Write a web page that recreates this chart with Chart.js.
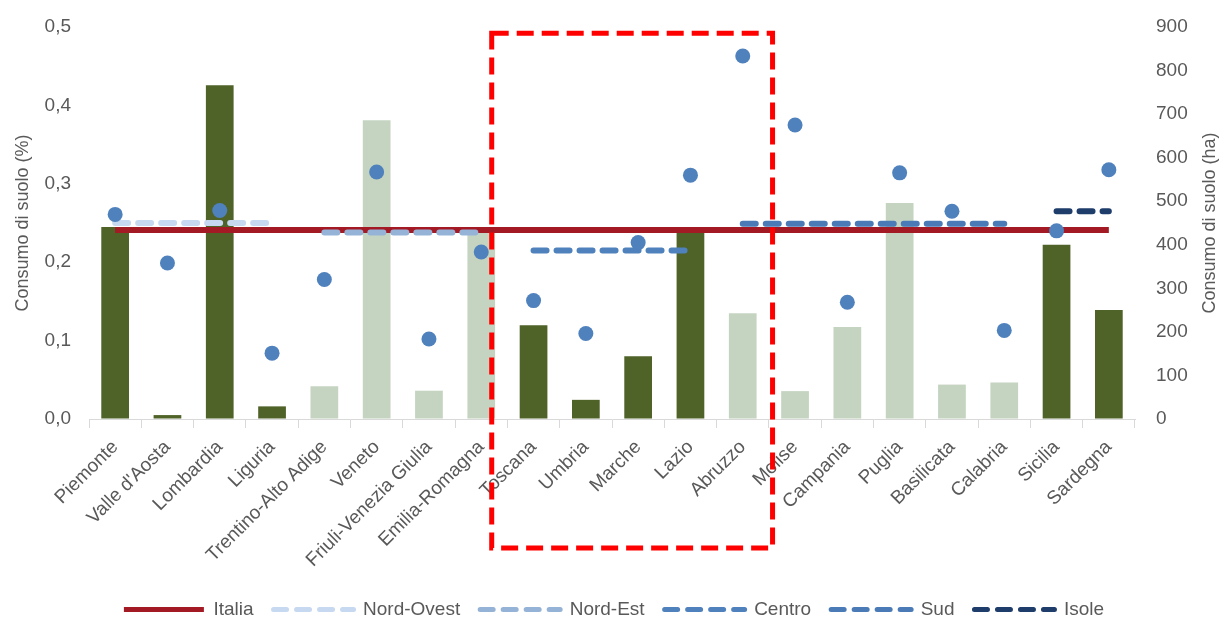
<!DOCTYPE html>
<html><head><meta charset="utf-8">
<script src="https://cdn.jsdelivr.net/npm/chart.js@4/dist/chart.umd.min.js"></script>
<style>html,body{margin:0;padding:0;background:#fff;}#wrap{width:1228px;height:621px;position:relative;}</style>
</head><body><div id="wrap"><canvas id="c"></canvas></div>
<script>
// ---- DATA ----
const regions = ['Piemonte',"Valle d'Aosta",'Lombardia','Liguria','Trentino-Alto Adige','Veneto','Friuli-Venezia Giulia','Emilia-Romagna','Toscana','Umbria','Marche','Lazio','Abruzzo','Molise','Campania','Puglia','Basilicata','Calabria','Sicilia','Sardegna'];
const macroArea = ['NO','NO','NO','NO','NE','NE','NE','NE','C','C','C','C','S','S','S','S','S','S','I','I'];
const consumoHa = [441, 9, 766, 29, 75, 686, 65, 427, 215, 44, 144, 431, 243, 64, 211, 496, 79, 84, 400, 250];
const consumoPct = [0.261, 0.199, 0.266, 0.084, 0.178, 0.315, 0.102, 0.213, 0.151, 0.109, 0.225, 0.311, 0.463, 0.375, 0.149, 0.314, 0.265, 0.113, 0.240, 0.318];
const mediaItalia = 0.241;
const mediaMacro = {NO: 0.250, NE: 0.238, C: 0.215, S: 0.249, I: 0.265};
const macroNames = {NO: 'Nord-Ovest', NE: 'Nord-Est', C: 'Centro', S: 'Sud', I: 'Isole'};
const leftTicks = [0, 0.1, 0.2, 0.3, 0.4, 0.5];
const rightTicks = [0, 100, 200, 300, 400, 500, 600, 700, 800, 900];

// ---- STYLE ----
const FONT = "'Liberation Sans', Arial, sans-serif";
const TXT = '#595959';
const barDark = '#4F6228', barLight = '#C4D4C0';
const barColorFor = {NO: barDark, NE: barLight, C: barDark, S: barLight, I: barDark};
const lineColor = {NO: '#C6D9F1', NE: '#95B3D7', C: '#4F81BD', S: '#4A7BB7', I: '#1F3D6B'};

const lineDatasets = Object.keys(mediaMacro).map((k, i) => ({
  type: 'line', label: macroNames[k], inLegend: true, legendRank: i + 1, yAxisID: 'y', order: 2,
  data: macroArea.map(m => m === k ? mediaMacro[k] : null),
  borderColor: lineColor[k], backgroundColor: lineColor[k],
  borderWidth: 6, borderDash: [13, 10], borderCapStyle: 'round',
  pointRadius: 0, pointHoverRadius: 0, spanGaps: false, fill: false
}));

const highlight = {fromIndex: 7.2, toIndex: 12.57, topValue: 0.492, below: 129};

const plugins = [{
  id: 'extras',
  afterDraw(chart) {
    const ctx = chart.ctx, x = chart.scales.x, y = chart.scales.y, y2 = chart.scales.y2;
    ctx.save();
    ctx.translate(y2.right - 18, (chart.chartArea.top + chart.chartArea.bottom) / 2);
    ctx.rotate(-Math.PI / 2);
    ctx.font = '18px ' + FONT; ctx.fillStyle = TXT; ctx.textAlign = 'center'; ctx.textBaseline = 'middle';
    ctx.fillText('Consumo di suolo (ha)', 0, 0);
    ctx.restore();
    const l = x.getPixelForValue(highlight.fromIndex), r = x.getPixelForValue(highlight.toIndex);
    const t = y.getPixelForValue(highlight.topValue), b = chart.chartArea.bottom + highlight.below;
    ctx.save();
    ctx.strokeStyle = '#FF0000'; ctx.lineWidth = 5; ctx.setLineDash([17, 8]);
    ctx.strokeRect(l, t, r - l, b - t);
    ctx.restore();
  }
}];

new Chart(document.getElementById('c'), {
  data: {
    labels: regions,
    datasets: [
      {type: 'line', label: 'Consumo di suolo (%)', data: consumoPct, yAxisID: 'y', order: 1,
       showLine: false, pointRadius: 7.5, pointHoverRadius: 7.5, pointBackgroundColor: '#4F81BD', pointBorderWidth: 0, borderColor: '#4F81BD'},
      {type: 'line', label: 'Italia', inLegend: true, legendRank: 0, data: regions.map(() => mediaItalia), yAxisID: 'y', order: 2.5,
       borderColor: '#A31A25', backgroundColor: '#A31A25', borderWidth: 6, pointRadius: 0, pointHoverRadius: 0, fill: false},
      ...lineDatasets,
      {type: 'bar', label: 'Consumo di suolo (ha)', data: consumoHa, yAxisID: 'y2', order: 3,
       backgroundColor: macroArea.map(m => barColorFor[m]), categoryPercentage: 1, barPercentage: 0.53}
    ]
  },
  options: {
    responsive: true, maintainAspectRatio: false, animation: false,
    layout: {padding: {top: 27, left: 0, right: 0, bottom: -8}},
    plugins: {
      tooltip: {enabled: false},
      legend: {position: 'bottom',
        labels: {filter: (item, data) => !!data.datasets[item.datasetIndex].inLegend,
          sort: (a, b, data) => data.datasets[a.datasetIndex].legendRank - data.datasets[b.datasetIndex].legendRank,
          usePointStyle: true, pointStyle: 'line', pointStyleWidth: 80, padding: 20,
          color: TXT, font: {family: FONT, size: 19},
          generateLabels(chart) {
            const items = Chart.defaults.plugins.legend.labels.generateLabels(chart);
            items.forEach(it => {
              const ds = chart.data.datasets[it.datasetIndex];
              it.lineDash = ds.borderDash || [];
              it.lineWidth = 5;
              it.strokeStyle = ds.borderColor;
              it.fillStyle = ds.borderColor;
              it.lineCap = ds.borderDash ? 'round' : 'butt';
              it.pointStyle = 'line';
            });
            return items;
          }}}
    },
    scales: {
      x: {
        grid: {display: true, drawOnChartArea: false, drawTicks: true, tickLength: 9, color: '#D9D9D9', offset: true},
        border: {display: true, color: '#D9D9D9'},
        ticks: {color: TXT, font: {family: FONT, size: 19}, maxRotation: 45, minRotation: 45, autoSkip: false, padding: 8},
        afterFit(s) { s.height = 161; }
      },
      y: {
        position: 'left', min: 0, max: 0.5,
        grid: {display: true, drawOnChartArea: false, drawTicks: true, tickLength: 18, color: 'rgba(0,0,0,0)'}, border: {display: false},
        afterBuildTicks(s) { s.ticks = leftTicks.map(v => ({value: v})); },
        ticks: {color: TXT, font: {family: FONT, size: 19}, padding: 0,
          callback: v => v.toFixed(1).replace('.', ',')},
        title: {display: true, text: 'Consumo di suolo (%)', color: TXT, font: {family: FONT, size: 18}, padding: {top: 12, bottom: 4}},
        afterFit(s) { s.width = 89; }
      },
      y2: {
        position: 'right', min: 0, max: 900,
        grid: {display: true, drawOnChartArea: false, drawTicks: true, tickLength: 21, color: 'rgba(0,0,0,0)'}, border: {display: false},
        afterBuildTicks(s) { s.ticks = rightTicks.map(v => ({value: v})); },
        ticks: {color: TXT, font: {family: FONT, size: 19}, padding: 0, callback: v => String(v)},
        afterFit(s) { s.width = 93; }
      }
    }
  },
  plugins
});
</script></body></html>
